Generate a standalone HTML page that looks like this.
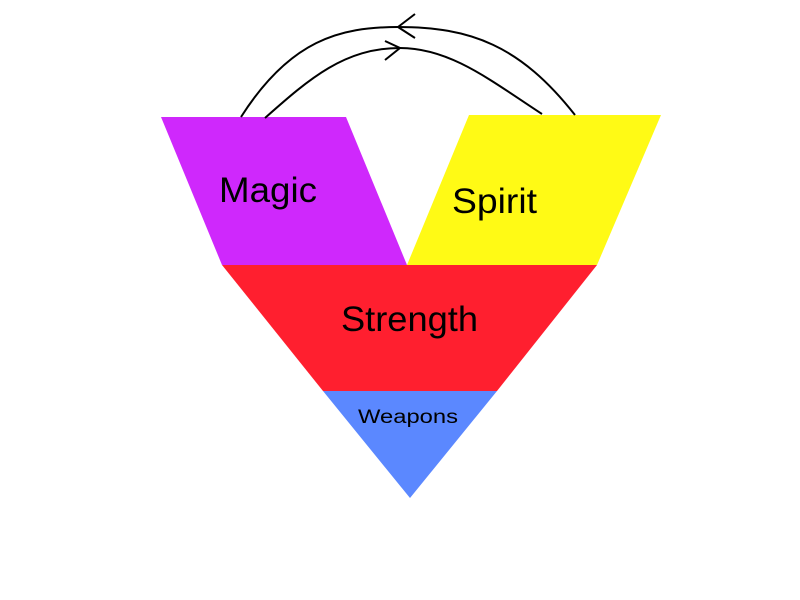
<!DOCTYPE html>
<html><head><meta charset="utf-8"><style>html,body{margin:0;padding:0;background:#fff;}svg{display:block}</style></head>
<body>
<svg width="800" height="600" viewBox="0 0 800 600" xmlns="http://www.w3.org/2000/svg">
<rect width="800" height="600" fill="#fff"/>
<polygon points="161,117 346,117 407,265 222,265" fill="#cf28fc"/>
<polygon points="469,115 661,115 597,265 407,265" fill="#fffa15"/>
<polygon points="222,265 597,265 497,391 323,391" fill="#ff1f2f"/>
<polygon points="323,391 497,391 410,498" fill="#5b88ff"/>
<g fill="none" stroke="#000" stroke-width="2">
<path d="M241,117 C290,40 340,27 398,27 C470,27 520,45 575,115"/>
<path d="M265,118 C310,78 345,48 400,48 C450,48 490,80 542,114"/>
<polyline points="415,14 398,27 415,38"/>
<polyline points="385,41 400,48 385,60"/>
</g>
<g font-family="Liberation Sans, sans-serif" fill="#000">
<text x="219" y="202" font-size="35" textLength="98" lengthAdjust="spacingAndGlyphs">Magic</text>
<text x="452" y="213" font-size="35" textLength="85" lengthAdjust="spacingAndGlyphs">Spirit</text>
<text x="341" y="331" font-size="35" textLength="137" lengthAdjust="spacingAndGlyphs">Strength</text>
<text x="358" y="423" font-size="19" textLength="100" lengthAdjust="spacingAndGlyphs">Weapons</text>
</g>
</svg>
</body></html>
